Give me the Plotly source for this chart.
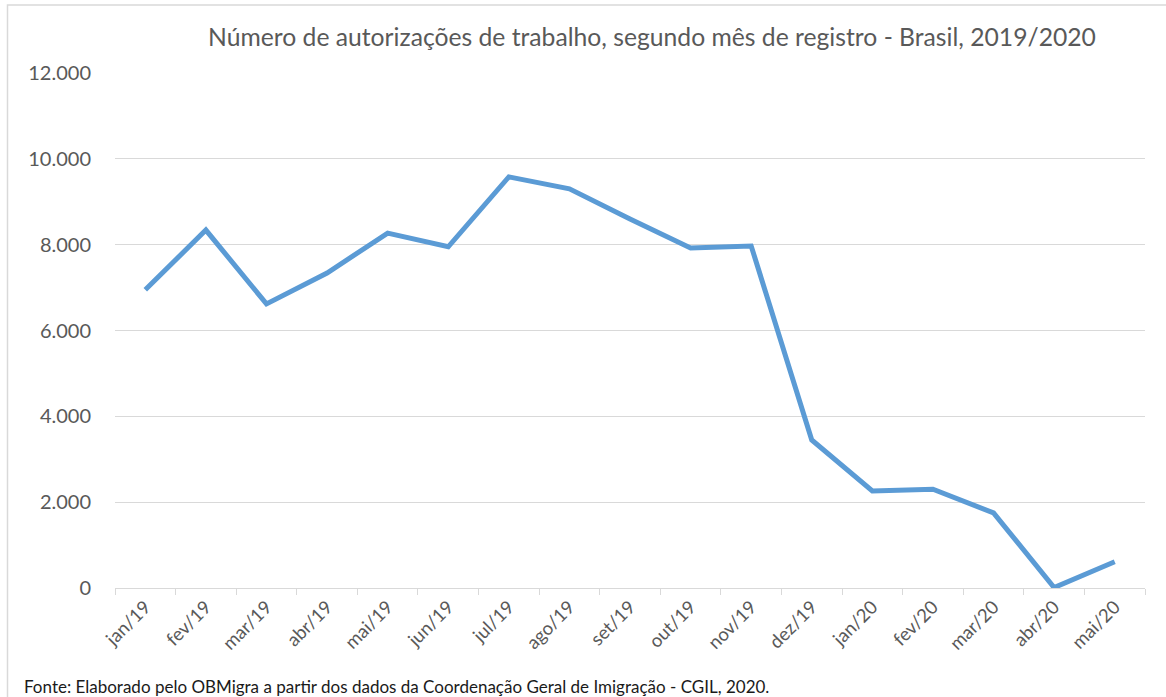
import plotly.graph_objects as go

months = ["jan/19", "fev/19", "mar/19", "abr/19", "mai/19", "jun/19", "jul/19", "ago/19",
          "set/19", "out/19", "nov/19", "dez/19", "jan/20", "fev/20", "mar/20", "abr/20", "mai/20"]
autorizacoes = [6950, 8340, 6620, 7340, 8270, 7950, 9580, 9300,
                8600, 7920, 7970, 3450, 2260, 2300, 1750, 10, 610]
y_ticks = [0, 2000, 4000, 6000, 8000, 10000, 12000]

title_text = "Número de autorizações de trabalho, segundo mês de registro - Brasil, 2019/2020"
source_text = "Fonte: Elaborado pelo OBMigra a partir dos dados da Coordenação Geral de Imigração - CGIL, 2020."

W, H = 1166, 697
L, R, T, B = 115, 21, 73, 109
pw, ph = W - L - R, H - T - B

def px_x(px):
    return (px - L) / pw

def px_y(py):
    return (H - B - py) / ph

fig = go.Figure()
fig.add_trace(go.Scatter(
    x=months, y=autorizacoes, mode="lines",
    line=dict(color="#5b9bd5", width=5),
    showlegend=False,
))

fig.update_layout(
    width=W, height=H,
    margin=dict(l=L, r=R, t=T, b=B, autoexpand=False),
    paper_bgcolor="white", plot_bgcolor="white",
    separators=",.",
    font=dict(family="Lato, 'Open Sans', sans-serif", color="#595959"),
    title=dict(text=title_text, x=px_x(652), xref="paper", xanchor="center",
               y=1 - 37 / H, yanchor="middle",
               font=dict(size=24.7, color="#595959", family="Lato, sans-serif")),
    xaxis=dict(
        type="category", range=[-0.5, len(months) - 0.5], automargin=False,
        tickangle=-45, tickson="boundaries", ticks="outside",
        ticklen=6, tickcolor="#d9d9d9", showline=True, linecolor="#d9d9d9", linewidth=1,
        showgrid=False, tickfont=dict(size=18.5, color="#595959"), fixedrange=True,
    ),
    yaxis=dict(
        range=[0, 12000], tickvals=y_ticks, tickformat=",d", automargin=False,
        showgrid=True, gridcolor="#d9d9d9", gridwidth=1, zeroline=False,
        showline=False, ticks="", ticklabelstandoff=23,
        tickfont=dict(size=20, color="#595959"),
    ),
    shapes=[dict(type="rect", xref="paper", yref="paper",
                 x0=px_x(7.5), x1=px_x(1200), y0=px_y(740), y1=px_y(5),
                 line=dict(color="#d9d9d9", width=1.5), fillcolor="rgba(0,0,0,0)", layer="below")],
    annotations=[dict(text=source_text, xref="paper", yref="paper",
                      x=px_x(22), y=px_y(686), xanchor="left", yanchor="middle",
                      showarrow=False, font=dict(size=17, color="#1a1a1a", family="Lato, sans-serif"))],
)

fig.write_html("out.html",
               config={"displayModeBar": False},
               post_script="document.body.style.margin='0px';document.body.style.overflow='hidden';")
